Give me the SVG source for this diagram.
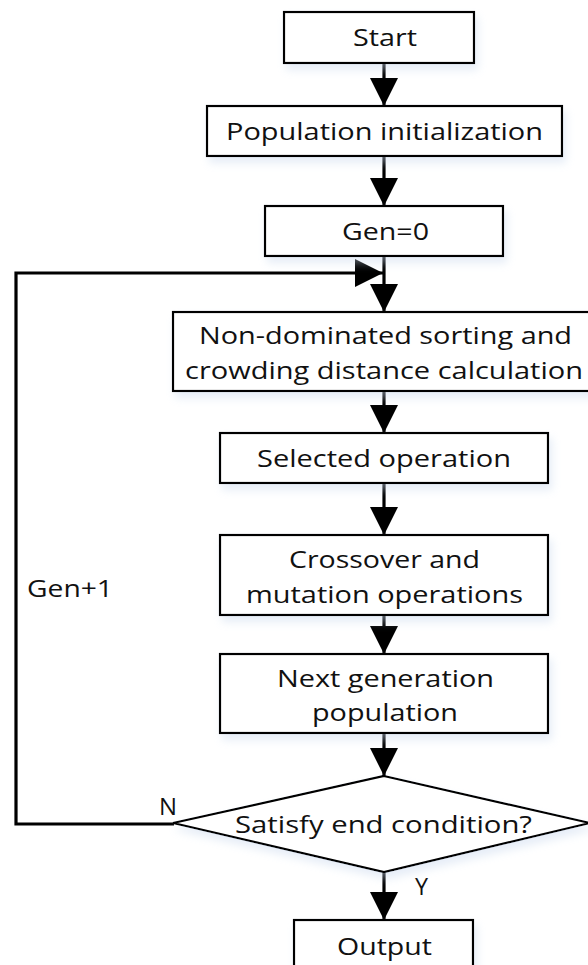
<svg xmlns="http://www.w3.org/2000/svg" width="588" height="965" viewBox="0 0 588 965">
<style>
.box{fill:#fff;stroke:#000;stroke-width:2.2;filter:url(#sh)}
.t{font-family:"Open Sans","Liberation Sans",sans-serif;font-size:24.5px;fill:#111;text-anchor:middle}
.l{font-family:"Open Sans","Liberation Sans",sans-serif;font-size:24.5px;fill:#111}
.c{fill:none;stroke:#000;stroke-width:3.2}
</style>
<defs>
<filter id="sh" x="-10%" y="-20%" width="125%" height="160%">
<feDropShadow dx="3" dy="6" stdDeviation="4" flood-color="#c9d8ee" flood-opacity="0.45"/>
</filter>
<marker id="ah" markerUnits="userSpaceOnUse" markerWidth="28" markerHeight="28" viewBox="0 0 26 26" refX="26" refY="13" orient="auto">
<path d="M0,0 L26,13 L0,26 Z" fill="#000"/>
</marker>
</defs>
<rect width="588" height="965" fill="#fff"/>
<g id="connectors">
<path class="c" d="M384,63 V106" marker-end="url(#ah)"/>
<path class="c" d="M384,156 V206" marker-end="url(#ah)"/>
<path class="c" d="M384,256 V312" marker-end="url(#ah)"/>
<path class="c" d="M384,391 V433" marker-end="url(#ah)"/>
<path class="c" d="M384,483 V535" marker-end="url(#ah)"/>
<path class="c" d="M384,615 V654" marker-end="url(#ah)"/>
<path class="c" d="M384,733 V776" marker-end="url(#ah)"/>
<path class="c" d="M384,872 V920" marker-end="url(#ah)"/>
<path class="c" d="M174,824 H16 V273 H383" marker-end="url(#ah)"/>
<text class="l" x="415" y="895" textLength="13" lengthAdjust="spacingAndGlyphs">Y</text>
<text class="l" x="159" y="815" textLength="18" lengthAdjust="spacingAndGlyphs">N</text>
<text class="l" x="27" y="597" textLength="86" lengthAdjust="spacingAndGlyphs">Gen+1</text>
</g>
<g id="start">
<rect class="box" x="284" y="12" width="190" height="51"/>
<text class="t" x="385" y="46" textLength="64" lengthAdjust="spacingAndGlyphs">Start</text>
</g>
<g id="init">
<rect class="box" x="207" y="106" width="355" height="50"/>
<text class="t" x="384.5" y="140" textLength="317" lengthAdjust="spacingAndGlyphs">Population initialization</text>
</g>
<g id="gen0">
<rect class="box" x="265" y="206" width="238" height="50"/>
<text class="t" x="385.5" y="240" textLength="87" lengthAdjust="spacingAndGlyphs">Gen=0</text>
</g>
<g id="sorting">
<rect class="box" x="173" y="312" width="420" height="79"/>
<text class="t" x="385.5" y="344" textLength="373" lengthAdjust="spacingAndGlyphs">Non-dominated sorting and</text>
<text class="t" x="384" y="379" textLength="398" lengthAdjust="spacingAndGlyphs">crowding distance calculation</text>
</g>
<g id="selection">
<rect class="box" x="220" y="433" width="328" height="50"/>
<text class="t" x="384" y="467" textLength="254" lengthAdjust="spacingAndGlyphs">Selected operation</text>
</g>
<g id="crossover">
<rect class="box" x="220" y="535" width="328" height="80"/>
<text class="t" x="384.5" y="568" textLength="191" lengthAdjust="spacingAndGlyphs">Crossover and</text>
<text class="t" x="384.5" y="603" textLength="277" lengthAdjust="spacingAndGlyphs">mutation operations</text>
</g>
<g id="nextgen">
<rect class="box" x="220" y="654" width="328" height="79"/>
<text class="t" x="385.5" y="687" textLength="217" lengthAdjust="spacingAndGlyphs">Next generation</text>
<text class="t" x="385" y="721" textLength="146" lengthAdjust="spacingAndGlyphs">population</text>
</g>
<g id="decision">
<polygon class="box" points="384,776 590,823 384,872 173,823"/>
<text class="t" x="383.5" y="833" textLength="297" lengthAdjust="spacingAndGlyphs">Satisfy end condition?</text>
</g>
<g id="output">
<rect class="box" x="294" y="920" width="179" height="60"/>
<text class="t" x="384.5" y="955" textLength="95" lengthAdjust="spacingAndGlyphs">Output</text>
</g>
</svg>
